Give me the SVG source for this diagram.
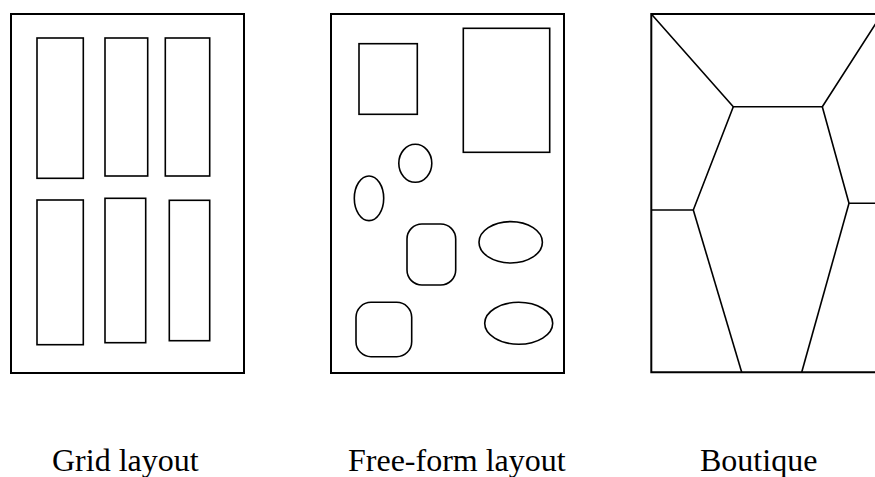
<svg xmlns="http://www.w3.org/2000/svg" width="875" height="477" viewBox="0 0 875 477">
<style>
.frame{fill:none;stroke:#000;stroke-width:2}
.sh{fill:none;stroke:#000;stroke-width:1.6}
.ln{fill:none;stroke:#000;stroke-width:1.6;stroke-linejoin:round}
.lbl{font-family:"Liberation Serif","Times New Roman",serif;font-size:32px;fill:#000}
</style>
<rect width="875" height="477" fill="#fff"/>
<g id="grid-layout">
<rect class="frame" x="11" y="14" width="233" height="359"/>
<rect class="sh" x="37" y="38" width="46.3" height="140.3"/>
<rect class="sh" x="105" y="38" width="42.7" height="138"/>
<rect class="sh" x="165.3" y="38" width="44.4" height="138"/>
<rect class="sh" x="37" y="200" width="46.3" height="144.7"/>
<rect class="sh" x="105" y="198.3" width="40.7" height="144.4"/>
<rect class="sh" x="169.3" y="200.3" width="40.4" height="140.4"/>
<text class="lbl" x="52" y="471">Grid layout</text>
</g>
<g id="free-form-layout">
<rect class="frame" x="331" y="14" width="233" height="359"/>
<rect class="sh" x="359" y="43.7" width="58.3" height="70.6"/>
<rect class="sh" x="463.3" y="28.3" width="86.4" height="124"/>
<ellipse class="sh" cx="415.3" cy="163.3" rx="16.5" ry="19"/>
<ellipse class="sh" cx="369" cy="198.3" rx="14.7" ry="22.3"/>
<rect class="sh" x="407" y="224" width="48.7" height="61" rx="15" ry="15"/>
<ellipse class="sh" cx="510.7" cy="242.3" rx="31.7" ry="20.7"/>
<rect class="sh" x="356" y="302.3" width="55.7" height="54.4" rx="15" ry="15"/>
<ellipse class="sh" cx="518.7" cy="323.3" rx="34" ry="21"/>
<text class="lbl" x="348" y="471">Free-form layout</text>
</g>
<g id="boutique">
<path class="frame" d="M876,14 H651.3 V372.3 H876"/>
<text class="lbl" x="700" y="471">Boutique</text>
</g>
<g id="connectors">
<path class="ln" d="M651.3,14 L733.3,106.7 L822.3,106.7 L880,17"/>
<path class="ln" d="M733.3,106.7 L693.3,210 L651.3,210"/>
<path class="ln" d="M693.3,210 L741.7,372.3"/>
<path class="ln" d="M822.3,106.7 L849,203.3 L876,203.3"/>
<path class="ln" d="M849,203.3 L801.7,372.3"/>
</g>
</svg>
